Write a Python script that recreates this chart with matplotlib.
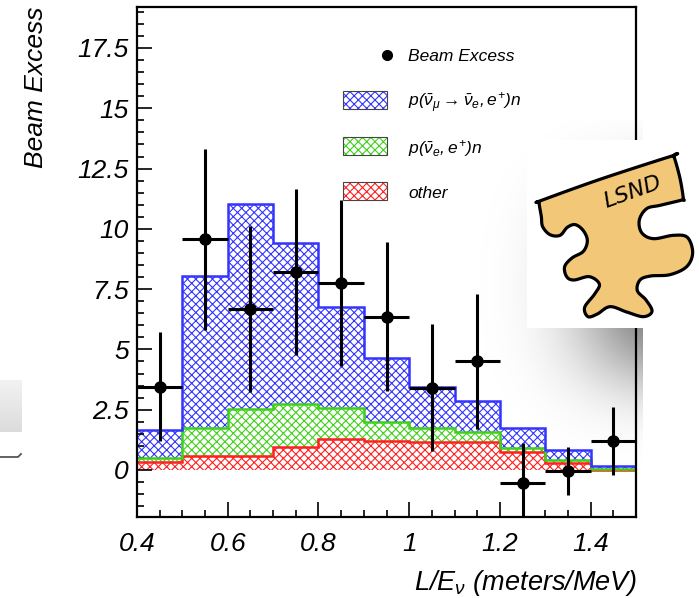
import numpy as np
import matplotlib
matplotlib.use("Agg")
import matplotlib.pyplot as plt
from matplotlib.patches import Rectangle, Polygon
from matplotlib.lines import Line2D
from matplotlib.ticker import MultipleLocator, FuncFormatter
from math import erf

plt.rcParams["font.family"] = ["Liberation Sans", "DejaVu Sans"]
plt.rcParams["font.style"] = "italic"
plt.rcParams["mathtext.fontset"] = "custom"
plt.rcParams["mathtext.it"] = "Liberation Sans:italic"
plt.rcParams["mathtext.rm"] = "Liberation Sans:italic"
plt.rcParams["mathtext.sf"] = "Liberation Sans:italic"
plt.rcParams["hatch.linewidth"] = 0.8

W, H = 699, 598

# L/E bins (meters/MeV)
bin_edges = [0.4, 0.5, 0.6, 0.7, 0.8, 0.9, 1.0, 1.1, 1.2, 1.3, 1.4, 1.5]
bin_centers = [0.45, 0.55, 0.65, 0.75, 0.85, 0.95, 1.05, 1.15, 1.25, 1.35, 1.45]

# stacked background / signal components
other = [0.35, 0.60, 0.60, 0.97, 1.29, 1.21, 1.18, 1.18, 0.76, 0.30, 0.00]
nue_bkg = [0.16, 1.16, 1.92, 1.77, 1.27, 0.79, 0.55, 0.38, 0.14, 0.11, 0.03]
numu_osc = [1.15, 6.30, 8.52, 6.66, 4.18, 2.66, 1.70, 1.32, 0.83, 0.42, 0.15]

# data
beam_excess = [3.46, 9.57, 6.68, 8.20, 7.75, 6.36, 3.42, 4.50, -0.55, -0.03, 1.20]
beam_excess_err = [2.25, 3.75, 3.45, 3.45, 3.45, 3.10, 2.63, 2.80, 1.65, 1.00, 1.40]

BLUE = "#3434ff"
GREEN = "#3fd11a"
RED = "#ff2020"


def fig_frac(x, y):
    """pixel (x, y from top) -> figure fraction"""
    return x / W, 1 - y / H


fig = plt.figure(figsize=(W / 100, H / 100), dpi=100)
fig.patch.set_facecolor("white")

# --- background decorations (slide leftovers) ---
# drop shadow of the logo box
sx = np.arange(480, 643)
sy = np.arange(120, 480)
XX, YY = np.meshgrid(sx, sy)
phi = np.vectorize(lambda v: 0.5 * (1 + erf(v / np.sqrt(2))))
ax_term = phi((XX - 600) / 48.0) - phi((XX - 760) / 48.0)
ay_term = phi((YY - 200) / 40.0) - phi((YY - 368) / 40.0)
alpha = 0.66 * ax_term * ay_term
shadow = np.zeros((len(sy), len(sx), 4))
shadow[..., 3] = alpha
fig.figimage(shadow, xo=480, yo=H - 480, origin="upper", zorder=-5)

# grey scrap at the left edge
gy = np.linspace(0, 1, 52)
grey = np.ones((52, 22, 4))
grey[..., :3] = (0.95 - 0.09 * gy)[:, None, None]
grey[..., 3] = 1.0
fig.figimage(grey, xo=0, yo=H - 432, origin="upper", zorder=-5)
fig.add_artist(Line2D([0 / W, 18 / W, 21 / W], [1 - 457 / H, 1 - 457 / H, 1 - 454 / H],
                      transform=fig.transFigure, color="#555555", lw=1.3))

# --- main axes ---
l, b = fig_frac(137, 517)
ax = fig.add_axes([l, b, 499 / W, 510 / H])
ax.set_facecolor("none")

edges = np.array(bin_edges)
lvl0 = np.zeros(len(other))
lvl1 = lvl0 + np.array(other)
lvl2 = lvl1 + np.array(nue_bkg)
lvl3 = lvl2 + np.array(numu_osc)

for lo, hi, col in [(lvl0, lvl1, RED), (lvl1, lvl2, GREEN), (lvl2, lvl3, BLUE)]:
    ax.fill_between(edges, np.append(lo, lo[-1]), np.append(hi, hi[-1]), step="post",
                    facecolor="white", edgecolor=col, hatch="xxxx", linewidth=0, zorder=1)
for hi, col in [(lvl1, RED), (lvl2, GREEN), (lvl3, BLUE)]:
    ax.stairs(hi, edges, baseline=None, color=col, lw=1.8, zorder=2)

ax.errorbar(bin_centers, beam_excess, yerr=beam_excess_err, xerr=0.05, fmt="o",
            color="black", ms=8, elinewidth=2.2, capsize=0, zorder=4)

ax.set_xlim(0.4, 1.5)
ax.set_ylim(-1.95, 19.2)
ax.xaxis.set_major_locator(MultipleLocator(0.2))
ax.xaxis.set_minor_locator(MultipleLocator(0.05))
ax.yaxis.set_major_locator(MultipleLocator(2.5))
ax.yaxis.set_minor_locator(MultipleLocator(0.5))
fmt = FuncFormatter(lambda v, p: "%g" % round(v, 3))
ax.xaxis.set_major_formatter(fmt)
ax.yaxis.set_major_formatter(fmt)
ax.tick_params(which="both", direction="in", top=False, right=False, width=1.2,
               labelsize=19)
ax.tick_params(which="major", length=11)
ax.tick_params(which="minor", length=5)
ax.tick_params(axis="x", pad=11)
ax.tick_params(axis="y", pad=6)
for sp in ax.spines.values():
    sp.set_linewidth(1.6)

# axis titles
fig.text(36 / W, 1 - 7 / H, "Beam Excess", rotation=90, ha="center", va="top", fontsize=19)
fig.text(637 / W, 1 - 590 / H, r"L/E$_{\nu}$ (meters/MeV)", ha="right", va="baseline",
         fontsize=19.5)


# --- legend ---
def ax_frac(x, y):
    return (x - 137) / 499, (517 - y) / 510


ax.plot(*ax_frac(387, 55), marker="o", ms=7, color="black", transform=ax.transAxes,
        clip_on=False, zorder=5)
legend_rows = [
    (None, "Beam Excess", 61),
    (BLUE, r"$p(\bar{\nu}_{\mu}\rightarrow\bar{\nu}_{e}, e^{+})n$", 107),
    (GREEN, r"$p(\bar{\nu}_{e}, e^{+})n$", 153),
    (RED, "other", 198),
]
for col, label, base in legend_rows:
    if col is not None:
        x0, y0 = ax_frac(343, base + 2)
        w, h = 44 / 499, 18 / 510
        ax.add_patch(Rectangle((x0, y0), w, h, transform=ax.transAxes, facecolor="white",
                               edgecolor=col, hatch="xxxx", lw=0, zorder=5))
        ax.add_patch(Rectangle((x0, y0), w, h, transform=ax.transAxes, facecolor="none",
                               edgecolor="#444444", lw=0.8, zorder=6))
    ax.text(*ax_frac(408, base), label, transform=ax.transAxes, ha="left",
            va="baseline", fontsize=12.5, zorder=6)

# --- LSND logo box ---
lx, lb = fig_frac(527, 328)
logo = fig.add_axes([lx, lb, (W - 527) / W, (328 - 140) / H], zorder=10)
logo.set_facecolor("white")
logo.set_xlim(527, W)
logo.set_ylim(328, 140)
logo.axis("off")
logo.add_patch(Rectangle((527, 140), W - 527, 188, facecolor="white", lw=0))

outline = np.array([
    (118, 245), (122, 242), (300, 178), (516, 108), (522, 110), (540, 175), (550, 236),
    (546, 240), (480, 256), (440, 266),
    (418, 300), (425, 338), (460, 356), (520, 346), (562, 352), (578, 398),
    (560, 440), (510, 464), (452, 468), (420, 480), (412, 512), (438, 540),
    (456, 574), (430, 590), (380, 576), (330, 560), (292, 582), (264, 590),
    (254, 562), (284, 522), (298, 492), (268, 470), (222, 480), (200, 470),
    (194, 440), (216, 414), (250, 394), (262, 362), (250, 332), (226, 314),
    (202, 322), (180, 346), (150, 344), (128, 320), (124, 290), (118, 255),
], dtype=float)


def smooth_closed(p, n=12):
    out = []
    m = len(p)
    for i in range(m):
        p0, p1, p2, p3 = p[i - 1], p[i], p[(i + 1) % m], p[(i + 2) % m]
        for t in np.linspace(0, 1, n, endpoint=False):
            t2, t3 = t * t, t * t * t
            out.append(0.5 * ((2 * p1) + (-p0 + p2) * t + (2 * p0 - 5 * p1 + 4 * p2 - p3) * t2
                              + (-p0 + 3 * p1 - 3 * p2 + p3) * t3))
    return np.array(out)


pts = smooth_closed(outline)
pts[:, 0] = 500 + pts[:, 0] / 3
pts[:, 1] = 120 + pts[:, 1] / 3
logo.add_patch(Polygon(pts, closed=True, facecolor="#f2c878", edgecolor="black",
                       lw=2.3, joinstyle="round"))
logo.text(633, 192, "LSND", rotation=20, ha="center", va="center", fontsize=16,
          family="DejaVu Sans", fontstyle="oblique", fontweight="light")

fig.savefig("out.png", dpi=100)
